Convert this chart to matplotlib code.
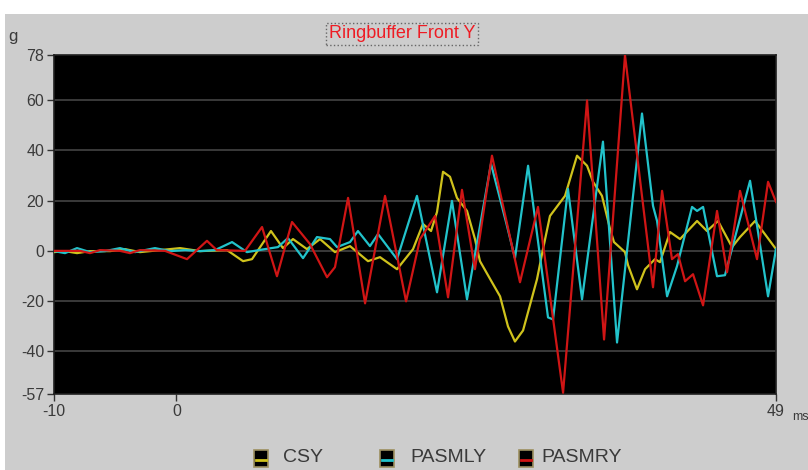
import matplotlib
matplotlib.use("Agg")
import matplotlib.pyplot as plt
from matplotlib.patches import Rectangle
from matplotlib.lines import Line2D

# time in ms, acceleration in g
csy_t = [-10.0, -9.10, -8.12, -7.06, -5.42, -4.20, -2.97, -1.34, 0.30, 1.93,
         4.14, 5.45, 6.18, 7.73, 8.71, 9.53, 10.67, 11.74, 12.96, 14.19,
         15.66, 16.64, 18.03, 19.34, 20.15, 20.81, 21.30, 21.79, 22.36, 22.93,
         23.75, 24.40, 24.81, 25.79, 26.45, 27.10, 27.67, 28.33, 29.47, 29.96,
         30.53, 31.02, 31.76, 32.74, 33.56, 34.05, 34.78, 35.44, 35.76, 36.66,
         36.91, 37.64, 38.30, 39.11, 39.52, 40.34, 41.16, 42.55, 43.36, 44.26,
         45.41, 46.06, 47.29, 48.27, 49.00]
csy_g = [-0.5, -0.1, -0.9, -0.1, -0.1, 0.7, -0.5, 0.3, 1.1, -0.1,
         0.3, -4.1, -3.3, 7.9, 1.1, 4.7, 0.7, 4.7, -0.5, 1.9,
         -4.1, -2.5, -7.3, 0.7, 10.7, 7.9, 15.5, 31.5, 29.5, 21.1,
         15.9, 4.7, -4.1, -12.5, -18.1, -30.1, -36.1, -31.7, -11.3, 0.7,
         13.9, 17.1, 21.9, 37.9, 33.9, 27.5, 21.9, 8.7, 3.5, -0.5,
         -5.7, -15.3, -7.3, -3.3, -4.5, 7.5, 4.7, 11.9, 7.9, 11.9,
         1.5, 5.5, 11.9, 5.5, 0.7]

pasmly_t = [-10.0, -9.10, -8.12, -7.06, -5.83, -4.61, -3.38, -1.75, -0.52, 0.71,
            1.93, 3.16, 4.55, 5.77, 7.24, 8.30, 9.12, 10.35, 11.49, 12.55,
            13.13, 14.19, 14.84, 15.82, 16.48, 18.03, 19.66, 21.30, 22.52, 23.75,
            25.71, 27.02, 27.67, 28.74, 30.37, 30.78, 32.00, 33.15, 34.86, 36.01,
            38.05, 38.95, 39.28, 40.10, 40.91, 42.14, 42.55, 43.04, 44.18, 44.83,
            46.88, 48.35, 49.00]
pasmly_g = [-0.1, -0.9, 1.1, -0.5, -0.1, 1.1, -0.5, 1.1, -0.1, 0.3,
            -0.1, 0.3, 3.5, -0.5, 0.7, 1.5, 5.1, -2.9, 5.5, 4.7,
            1.5, 3.5, 7.9, 1.9, 6.7, -3.3, 21.9, -16.5, 19.9, -19.3,
            34.7, 9.9, -2.9, 33.9, -26.5, -27.3, 24.7, -19.3, 43.5, -36.5,
            54.7, 17.9, 11.9, -18.1, -6.1, 17.5, 15.9, 17.5, -10.1, -9.7,
            27.9, -18.1, 0.7]

pasmry_t = [-10.0, -7.88, -7.06, -6.24, -4.61, -3.79, -2.97, -0.93, 0.87, 2.50,
            3.30, 5.61, 7.00, 8.22, 9.45, 10.92, 12.31, 12.96, 14.03, 15.42,
            17.05, 18.77, 19.91, 21.14, 22.20, 23.34, 24.40, 25.79, 28.08, 29.55,
            31.60, 33.56, 34.95, 36.66, 38.95, 39.69, 40.50, 40.99, 41.57, 42.22,
            43.04, 44.18, 45.00, 46.06, 47.45, 48.35, 49.00]
pasmry_g = [0.0, 0.0, -0.9, 0.3, 0.0, -0.9, 0.3, 0.0, -3.3, 4.0,
            0.3, 0.0, 9.5, -10.1, 11.5, 2.7, -10.5, -6.5, 21.1, -20.9,
            21.9, -20.1, 4.7, 13.9, -18.5, 24.3, -7.3, 37.9, -12.5, 17.5,
            -56.5, 59.9, -35.3, 77.9, -14.5, 23.9, -3.3, -1.3, -12.1, -9.3,
            -21.7, 15.9, -8.5, 23.9, -3.3, 27.5, 19.5]

series_names = ["CSY", "PASMLY", "PASMRY"]
series_colors = ["#cfc21c", "#22c3cb", "#d01515"]

y_ticks = [78, 60, 40, 20, 0, -20, -40, -57]
grid_levels = [60, 40, 20, 0, -20, -40]
x_ticks = [-10, 0, 49]

W, H = 808, 470
BG = "#cdcdcd"
TXT = "#3a3a3a"

def fx(px):
    return px / W

def fy(py):
    # pixel rows are counted from the top
    return 1 - py / H

fig = plt.figure(figsize=(W / 100, H / 100), dpi=100, facecolor="white")
fig.patches.append(Rectangle((fx(5), 0), 1, fy(14), transform=fig.transFigure,
                             facecolor=BG, edgecolor="none", zorder=-10))

ax = fig.add_axes([fx(54), fy(394), fx(776) - fx(54), fy(55) - fy(394)])
ax.set_facecolor("black")

for lvl in grid_levels:
    ax.axhline(lvl, color="#3f3f3f", lw=1.3, zorder=1)

data = [(csy_t, csy_g), (pasmly_t, pasmly_g), (pasmry_t, pasmry_g)]
for (t, g), c in zip(data, series_colors):
    ax.plot(t, g, color=c, lw=1.6, zorder=3, solid_joinstyle="round")

ax.set_xlim(-10, 49)
ax.set_ylim(-57, 78)
ax.set_yticks(y_ticks)
ax.set_yticklabels([str(v) for v in y_ticks])
ax.set_xticks(x_ticks)
ax.set_xticklabels([str(v) for v in x_ticks])
ax.tick_params(direction="out", length=5, width=1, color="#333333",
               labelsize=11.5, labelcolor=TXT, pad=2)
for sp in ax.spines.values():
    sp.set_color("#202020")
    sp.set_linewidth(1.2)

font = ["Liberation Sans", "DejaVu Sans"]
for lab in ax.get_xticklabels() + ax.get_yticklabels():
    lab.set_family(font)

# axis annotations
fig.text(fx(8), fy(36), "g", fontsize=12, color=TXT, family=font, va="center")
fig.text(fx(792), fy(417), "ms", fontsize=9, color=TXT, family=font, va="center")

fig.text(fx(402), fy(34), "Ringbuffer Front Y", fontsize=13, color="#ee1c24",
         family=font, ha="center", va="center",
         bbox=dict(boxstyle="square,pad=0.15", facecolor=BG,
                   edgecolor="#666666", linestyle=":", lw=1))

# legend with small boxed icons
icon_x = [254, 380, 519]
label_x = [283, 410, 541]
for name, c, ix, lx in zip(series_names, series_colors, icon_x, label_x):
    fig.patches.append(Rectangle((fx(ix), fy(467)), 14 / W, 17 / H,
                                 transform=fig.transFigure, facecolor="black",
                                 edgecolor="#9c8f5f", lw=1.2, zorder=2))
    fig.lines.append(Line2D([fx(ix + 2), fx(ix + 12)], [fy(460), fy(460)],
                            transform=fig.transFigure, color=c, lw=2, zorder=3))
    fig.text(fx(lx), fy(458), name, fontsize=14, color=TXT, family=font,
             va="center")

fig.savefig("out.png", dpi=100, facecolor=fig.get_facecolor())
